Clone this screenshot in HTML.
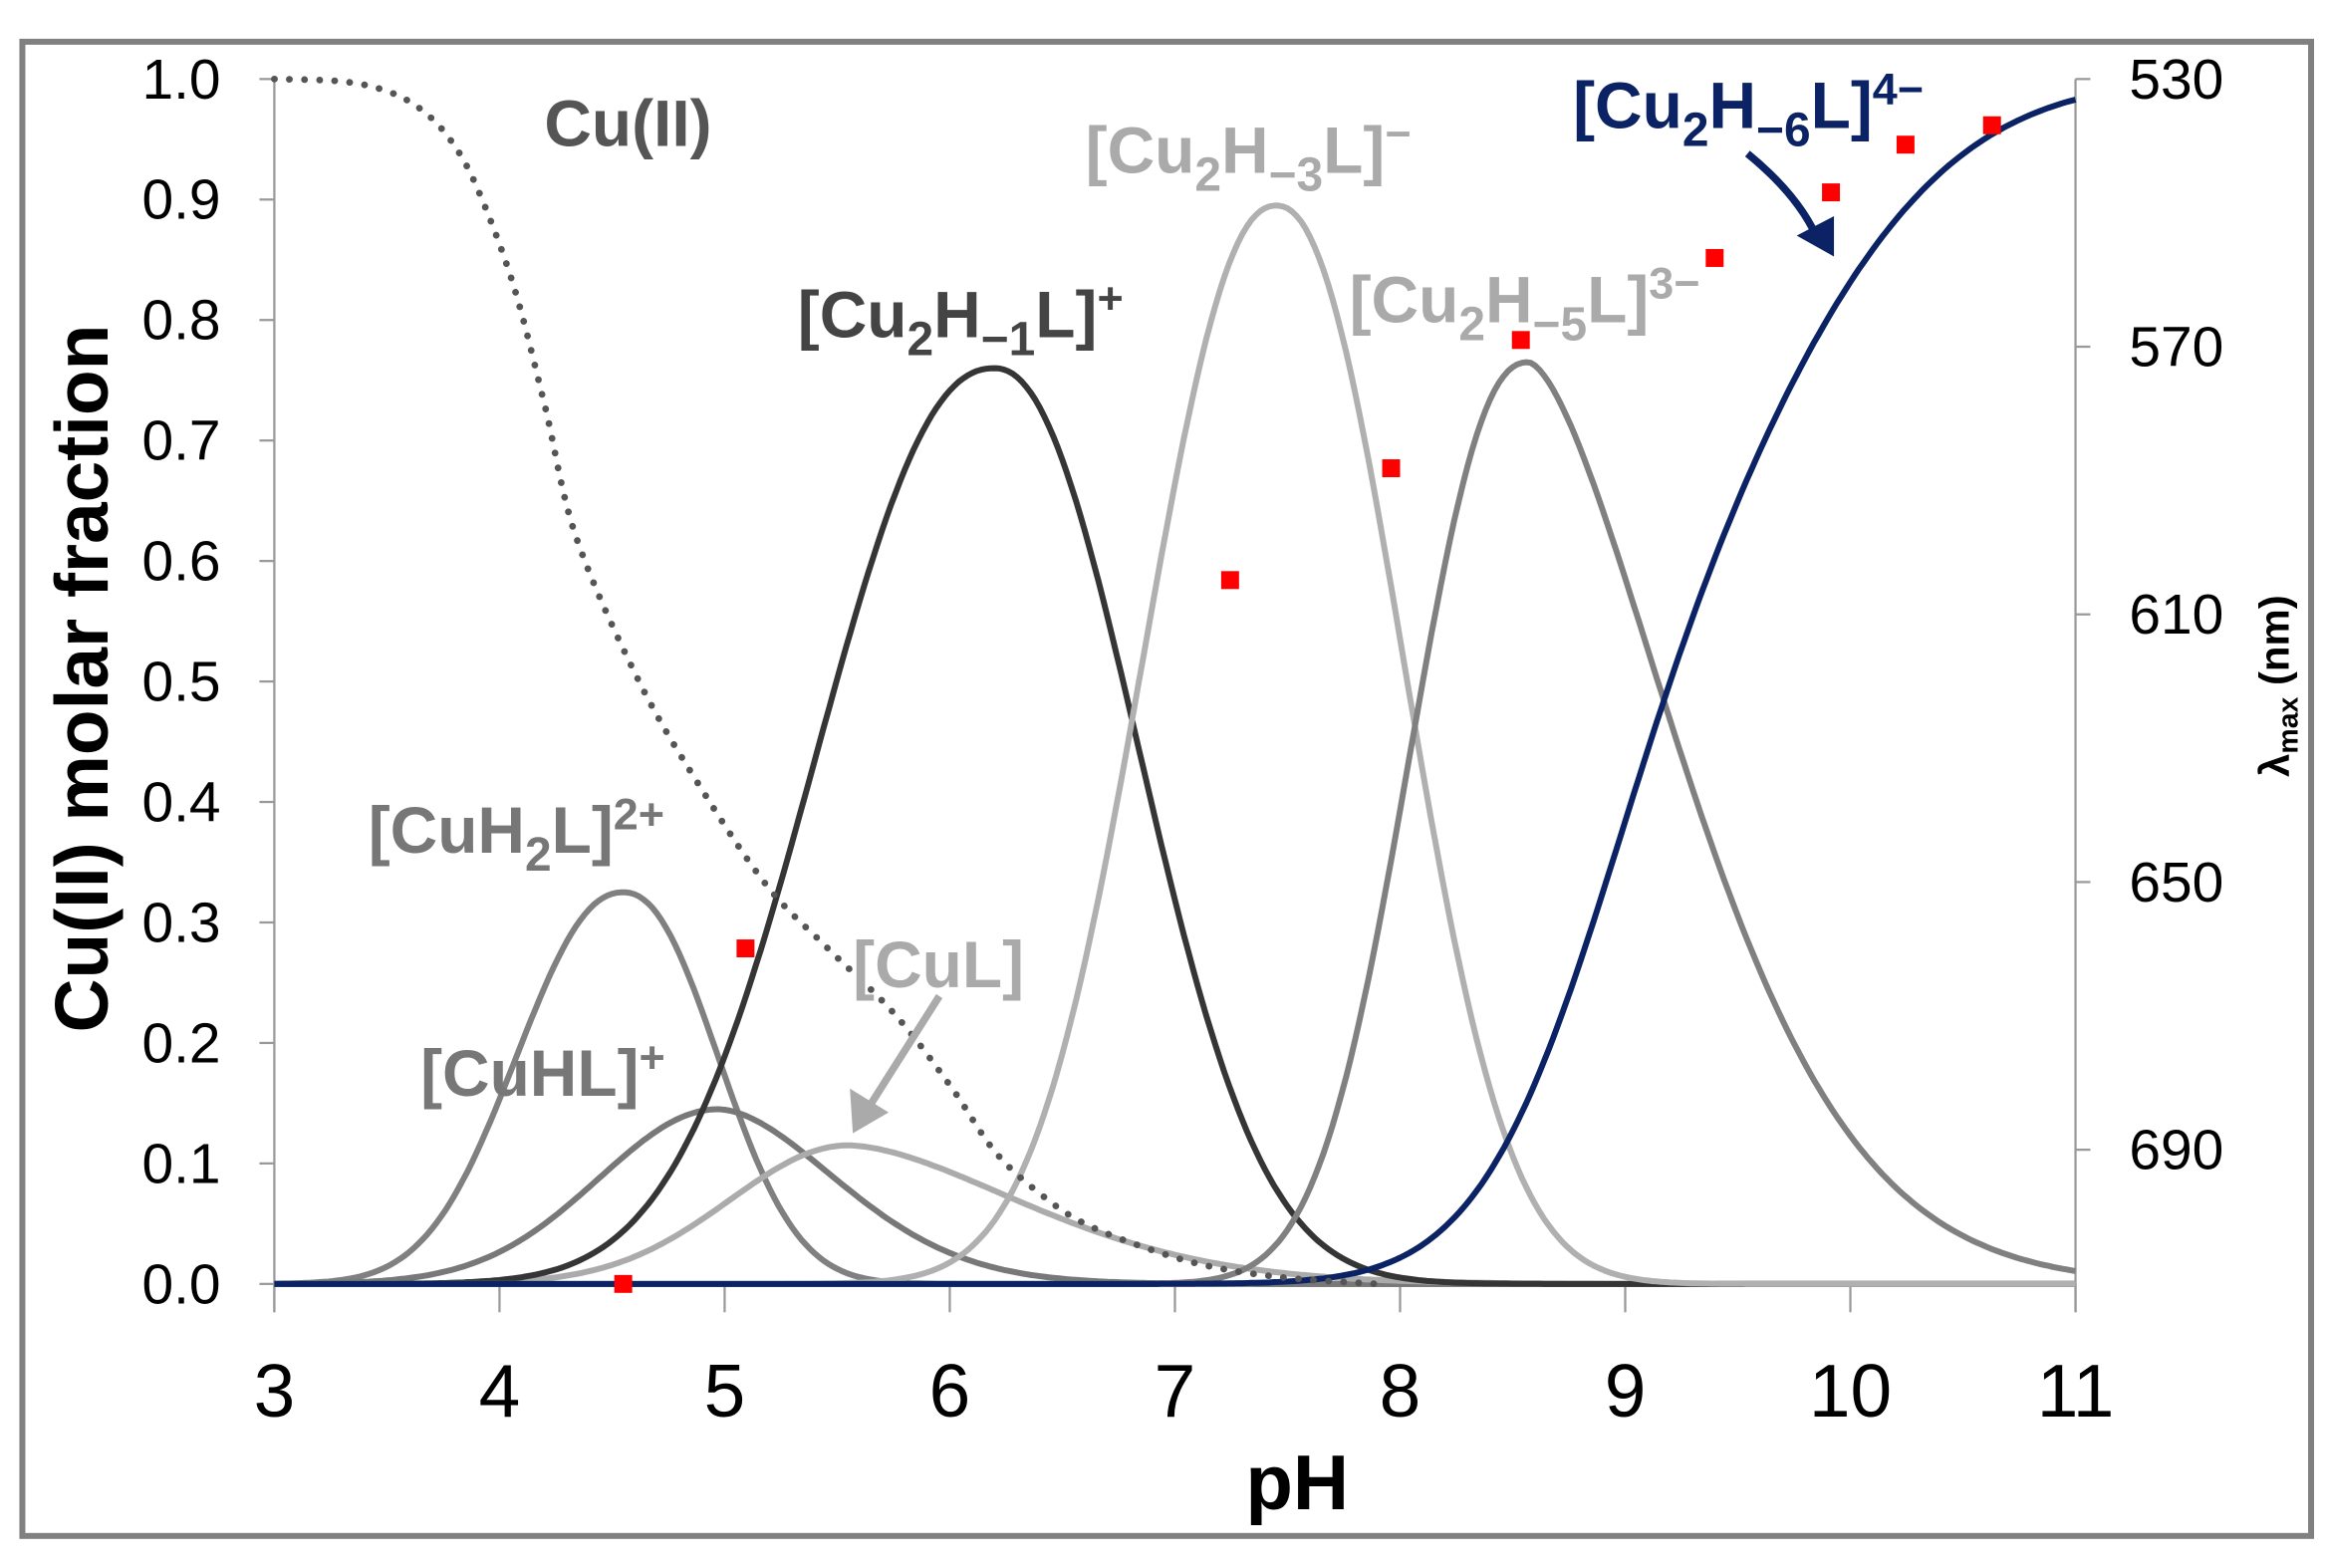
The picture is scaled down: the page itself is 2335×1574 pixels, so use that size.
<!DOCTYPE html>
<html><head><meta charset="utf-8"><style>
html,body{margin:0;padding:0;background:#fff}
svg{display:block}
text{font-family:"Liberation Sans",Arial,sans-serif}
.tk{font-family:"Liberation Sans Narrow","Liberation Sans",sans-serif;font-size:38px;fill:#000}
.lb{font-weight:bold;font-size:44px}
</style></head><body>
<svg id="s" width="2335" height="1574" viewBox="0 0 1560 1051.5" preserveAspectRatio="none" xmlns="http://www.w3.org/2000/svg">
<rect x="0" y="0" width="1560" height="1052" fill="#fff"/>
<rect x="15" y="28" width="1535" height="1002" fill="none" stroke="#808080" stroke-width="4"/>
<g stroke="#999" stroke-width="1.5">
<line x1="184" y1="53" x2="184" y2="880"/>
<line x1="1392" y1="53" x2="1392" y2="880"/>
<line x1="184" y1="861" x2="1392" y2="861"/>
</g>
<g id="ticks" stroke="#999" stroke-width="1.5"></g>
<g id="curves" fill="none" stroke-width="4" stroke-linejoin="round"></g>
<text class="lb" x="365" y="98" fill="#555">Cu(II)</text>
<text class="lb" x="535" y="226" fill="#444">[Cu<tspan font-size="32" dy="12">2</tspan><tspan dy="-12">H</tspan><tspan font-size="32" dy="12">−1</tspan><tspan dy="-12">L]</tspan><tspan font-size="30" dy="-16">+</tspan></text>
<text class="lb" x="728" y="116" fill="#aaa">[Cu<tspan font-size="32" dy="12">2</tspan><tspan dy="-12">H</tspan><tspan font-size="32" dy="12">−3</tspan><tspan dy="-12">L]</tspan><tspan font-size="30" dy="-16">−</tspan></text>
<text class="lb" x="905" y="216" fill="#aaa">[Cu<tspan font-size="32" dy="12">2</tspan><tspan dy="-12">H</tspan><tspan font-size="32" dy="12">−5</tspan><tspan dy="-12">L]</tspan><tspan font-size="30" dy="-16">3−</tspan></text>
<text class="lb" x="1055" y="86" fill="#0b2364">[Cu<tspan font-size="32" dy="12">2</tspan><tspan dy="-12">H</tspan><tspan font-size="32" dy="12">−6</tspan><tspan dy="-12">L]</tspan><tspan font-size="30" dy="-16">4−</tspan></text>
<text class="lb" x="247" y="572" fill="#777">[CuH<tspan font-size="32" dy="12">2</tspan><tspan dy="-12">L]</tspan><tspan font-size="30" dy="-16">2+</tspan></text>
<text class="lb" x="282" y="735" fill="#777">[CuHL]<tspan font-size="30" dy="-16">+</tspan></text>
<text class="lb" x="572" y="662" fill="#aaa">[CuL]</text>
<line x1="630" y1="668" x2="583" y2="742" stroke="#aaa" stroke-width="5"/>
<polygon points="572,760 570,730 596,746" fill="#aaa"/>
<path d="M1172,103 Q1205,130 1218,158" fill="none" stroke="#0b2364" stroke-width="5"/>
<polygon points="1230,172 1205,158 1230,145" fill="#0b2364"/>
<text x="870" y="1012" font-size="52" font-weight="bold" text-anchor="middle">pH</text>
<text transform="translate(72,455) rotate(-90)" font-size="50" font-weight="bold" text-anchor="middle">Cu(II)  molar fraction</text>
<text transform="translate(1535,460) rotate(-90)" font-size="28" font-weight="bold" text-anchor="middle">λ<tspan font-size="19" dy="6">max</tspan><tspan dy="-6"> (nm)</tspan></text>
</svg>
<script>
var NS="http://www.w3.org/2000/svg",svg=document.getElementById('s');
function X(p){return 184+151*(p-3);} function Y(f){return 861-808*f;}
function el(t,a,par){var e=document.createElementNS(NS,t);for(var k in a)e.setAttribute(k,a[k]);(par||svg).appendChild(e);return e;}
var tg=document.getElementById('ticks');
for(var i=0;i<=10;i++){var y=Y(i/10);el('line',{x1:174,y1:y,x2:184,y2:y},tg);
 var t=el('text',{x:148,y:y+13,'text-anchor':'end','class':'tk'});t.textContent=(i/10).toFixed(1);}
for(var p=3;p<=11;p++){el('line',{x1:X(p),y1:861,x2:X(p),y2:880},tg);
 var t=el('text',{x:X(p),y:950,'text-anchor':'middle','class':'tk'});t.style.fontSize='50px';t.textContent=p;}
[530,570,610,650,690].forEach(function(l){var y=53+(l-530)*4.4875;el('line',{x1:1392,y1:y,x2:1402,y2:y},tg);
 var t=el('text',{x:1428,y:y+13,'class':'tk'});t.textContent=l;});
var cg=document.getElementById('curves');
function peak(A,c,hl,hr,kl,kr){return function(p){var d=p-c,h=d<0?hl:hr,k=d<0?kl:kr;return A*Math.exp(-0.693*Math.pow(Math.abs(d/h),k));};}
function erf(x){var s=x<0?-1:1;x=Math.abs(x);var t=1/(1+0.3275911*x);var y=1-(((((1.061405429*t-1.453152027)*t)+1.421413741)*t-0.284496736)*t+0.254829592)*t*Math.exp(-x*x);return s*y;}
function draw(f,col,w){var d='';for(var p=3;p<=11.0001;p+=0.02){d+=(d?'L':'M')+X(p).toFixed(1)+','+Y(f(p)).toFixed(1);}
 el('path',{d:d,stroke:col,'stroke-width':w||4},cg);}
draw(peak(0.325,4.55,0.53,0.47,2.2,2.2),'#808080');
draw(peak(0.145,4.97,0.62,0.62,2,1.8),'#787878');
draw(peak(0.115,5.55,0.62,0.9,2,1.7),'#ababab');
draw(peak(0.76,6.2,0.88,0.72,2.25,2.15),'#353535');
draw(peak(0.895,7.45,0.66,0.63,2.2,2.2),'#b0b0b0');
draw(peak(0.765,8.57,0.58,0.78,2.3,1.6),'#808080');
draw(function(p){var u=p-9.2;var s=0.72+0.13*Math.tanh(u/0.6);return 0.5*(1+erf(u/s/Math.SQRT2));},'#0b2364');
var pts=[[3,1],[3.3,0.998],[3.5,0.99],[3.65,0.975],[3.78,0.95],[3.9,0.91],[4.06,0.83],[4.2,0.73],[4.34,0.62],[4.62,0.50],[4.9,0.41],[5.19,0.33],[5.45,0.28],[5.75,0.225],[6.0,0.165],[6.2,0.11],[6.4,0.075],[6.6,0.05],[6.9,0.028],[7.17,0.014],[7.5,0.005],[7.9,0]];
var d='M'+X(pts[0][0])+','+Y(pts[0][1]);
for(var i=0;i<pts.length-1;i++){var p0=pts[Math.max(0,i-1)],p1=pts[i],p2=pts[i+1],p3=pts[Math.min(pts.length-1,i+2)];
 var P=function(q){return [X(q[0]),Y(q[1])];};var a=P(p0),b=P(p1),c=P(p2),e=P(p3);
 d+='C'+(b[0]+(c[0]-a[0])/6)+','+(b[1]+(c[1]-a[1])/6)+' '+(c[0]-(e[0]-b[0])/6)+','+(c[1]-(e[1]-b[1])/6)+' '+c[0]+','+c[1];}
el('path',{d:d,stroke:'#555','stroke-width':4.5,'stroke-dasharray':'0.1 10','stroke-linecap':'round'},cg);
[[418,861],[500,636],[825,389],[933,314],[1020,228],[1150,173],[1228,129],[1278,97],[1336,84]].forEach(function(q){el('rect',{x:q[0]-6,y:q[1]-6,width:12,height:12,fill:'#f00'});});
</script>
</body></html>
